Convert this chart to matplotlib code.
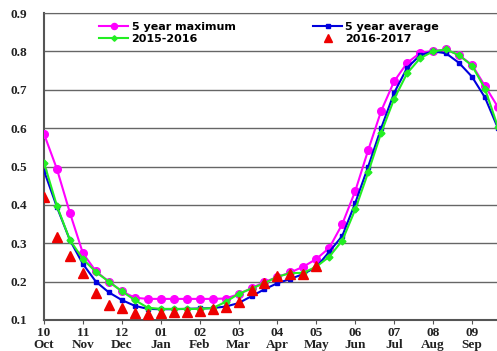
import matplotlib
matplotlib.use("Agg")
import matplotlib.pyplot as plt
import numpy as np

# 10-day steps starting early October (3 points per month)
months = ["10\nOct", "11\nNov", "12\nDec", "01\nJan", "02\nFeb", "03\nMar",
          "04\nApr", "05\nMay", "06\nJun", "07\nJul", "08\nAug", "09\nSep"]

max5 = [0.585, 0.493, 0.379, 0.274, 0.227, 0.200, 0.175, 0.158, 0.155, 0.155,
        0.155, 0.155, 0.155, 0.155, 0.156, 0.167, 0.183, 0.199, 0.212, 0.224,
        0.239, 0.259, 0.288, 0.350, 0.436, 0.543, 0.645, 0.722, 0.770, 0.796,
        0.801, 0.805, 0.790, 0.765, 0.710, 0.655]
avg5 = [0.489, 0.394, 0.308, 0.246, 0.200, 0.172, 0.152, 0.137, 0.129, 0.128,
        0.128, 0.129, 0.130, 0.131, 0.135, 0.144, 0.162, 0.180, 0.196, 0.207,
        0.220, 0.238, 0.278, 0.319, 0.405, 0.500, 0.600, 0.692, 0.757, 0.790,
        0.800, 0.795, 0.770, 0.734, 0.680, 0.600]
y1516 = [0.510, 0.397, 0.308, 0.259, 0.225, 0.200, 0.175, 0.152, 0.132, 0.129,
         0.129, 0.129, 0.129, 0.131, 0.147, 0.168, 0.182, 0.196, 0.213, 0.222,
         0.223, 0.239, 0.265, 0.307, 0.388, 0.485, 0.588, 0.676, 0.743, 0.782,
         0.800, 0.805, 0.790, 0.763, 0.703, 0.603]
y1617 = [0.420, 0.317, 0.267, 0.222, 0.170, 0.139, 0.131, 0.118, 0.116, 0.119,
         0.120, 0.120, 0.123, 0.128, 0.135, 0.148, 0.177, 0.197, 0.215, 0.220,
         0.221, 0.240]

x_all = np.arange(len(max5))
x_red = np.arange(len(y1617))

fig = plt.figure(figsize=(4.97, 3.51), dpi=100)
ax = fig.add_axes([44 / 497, 1 - 320 / 351, 1 - 44 / 497, (320 - 13) / 351])

l1, = ax.plot(x_all, max5, color="#ff00ff", marker="o", markersize=5.5, lw=1.5,
              label="5 year maximum", zorder=3)
l2, = ax.plot(x_all, avg5, color="#0000dd", marker="s", markersize=2.8, lw=1.5,
              label="5 year average", zorder=4)
l3, = ax.plot(x_all, y1516, color="#22ee22", marker="D", markersize=3.5, lw=1.5,
              label="2015-2016", zorder=5)
l4, = ax.plot(x_red, y1617, color="#ee0000", marker="^", markersize=6.5, lw=0,
              label="2016-2017", zorder=6)

ax.set_ylim(0.1, 0.9)
ax.set_xlim(0, 34.93)
ax.set_yticks(np.arange(0.1, 0.91, 0.1))
ax.set_yticklabels([f"{v:.1f}" for v in np.arange(0.1, 0.91, 0.1)])
ax.set_xticks(np.arange(0, 36, 3))
ax.set_xticklabels(months)

ax.grid(axis="y", color="#666666", lw=1.0)
ax.set_axisbelow(True)
ax.spines["right"].set_visible(False)
ax.spines["top"].set_color("#666666")
ax.spines["left"].set_color("#555555")
ax.spines["bottom"].set_color("#555555")
ax.spines["left"].set_linewidth(1.5)
ax.spines["bottom"].set_linewidth(1.5)

ax.tick_params(axis="y", length=0, pad=12)
ax.tick_params(axis="x", direction="out", length=3, color="#555555", pad=2)
for lab in ax.get_xticklabels() + ax.get_yticklabels():
    lab.set_fontfamily("Liberation Serif")
    lab.set_fontweight("bold")
    lab.set_fontsize(9.5)
    lab.set_color("#222222")
for lab in ax.get_xticklabels():
    lab.set_linespacing(1.0)

# column-wise fill: max / 2015-2016 in first column, average / 2016-2017 in second
leg = ax.legend([l1, l3, l2, l4],
                ["5 year maximum", "2015-2016", "5 year average", "2016-2017"],
                loc="upper left", bbox_to_anchor=(0.11, 0.99), ncol=2,
                frameon=False, columnspacing=7.0, handlelength=2.6,
                handletextpad=0.3, labelspacing=0.2, borderaxespad=0.1,
                markerscale=0.8,
                prop={"family": "DejaVu Sans", "weight": "bold", "size": 8})

fig.savefig("out.png", dpi=100)
